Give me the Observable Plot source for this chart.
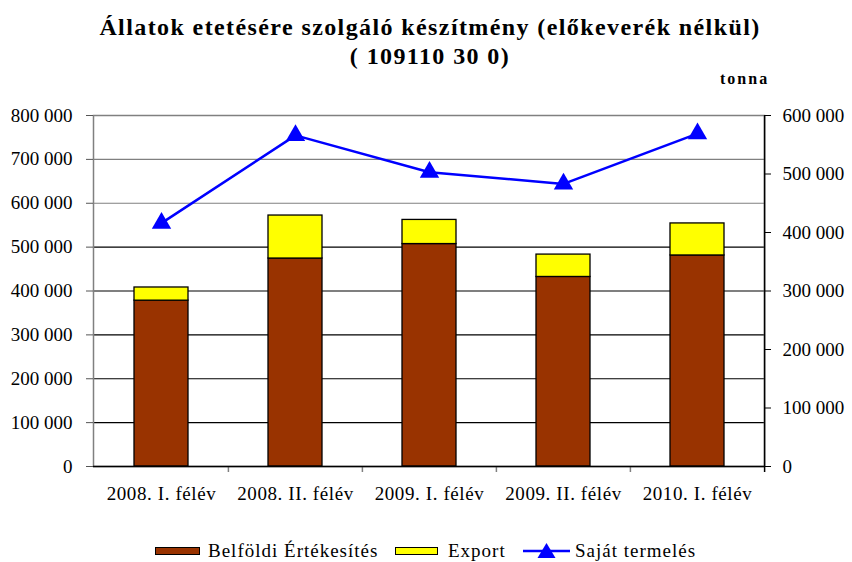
<!DOCTYPE html>
<html><head><meta charset="utf-8">
<script src="https://cdn.jsdelivr.net/npm/d3@7"></script>
<script src="https://cdn.jsdelivr.net/npm/@observablehq/plot@0.6"></script>
<style>
body{margin:0;background:#fff;font-family:"Liberation Serif","Times New Roman",serif;color:#000}
#wrap{position:relative;width:852px;height:562px;overflow:hidden}
#title{position:absolute;left:0;top:13px;width:860px;text-align:center;font-weight:bold;font-size:24px;line-height:29px;letter-spacing:1.4px}
#unit{position:absolute;left:720px;top:70px;font-weight:bold;font-size:16px;letter-spacing:2px}
#chart{position:absolute;left:0;top:90px}
#chart g[aria-label="x-axis tick label"] text{letter-spacing:0.6px}
.lg{position:absolute;font-size:19px;line-height:20px;top:541px;white-space:nowrap;letter-spacing:1px}
.sw{position:absolute;top:547px;height:6px;border:1px solid #000}
</style></head>
<body><div id="wrap">
<div id="title">Állatok etetésére szolgáló készítmény (előkeverék nélkül)<br>( 109110 30 0)</div>
<div id="unit">tonna</div>
<div id="chart"></div>
<div id="legend"></div>
</div>
<script>
const periods = ["2008. I. félév", "2008. II. félév", "2009. I. félév", "2009. II. félév", "2010. I. félév"];
const belfoldi = [378000, 474000, 507000, 432000, 481000];
const exportVals = [30000, 98000, 55000, 51000, 73000];
const sajat = [416000, 566000, 503000, 483000, 569000];
const leftTicks = [0, 100000, 200000, 300000, 400000, 500000, 600000, 700000, 800000];
const rightTicks = [0, 100000, 200000, 300000, 400000, 500000, 600000];
const seriesNames = ["Belföldi Értékesítés", "Export", "Saját termelés"];
const seriesColors = ["#993300", "#ffff00", "#0000ff"];

const ratio = 800000 / 600000;
const fmt = d3.formatLocale({decimal: ",", thousands: " ", grouping: [3], currency: ["", ""]}).format(",d");

const barData = [];
periods.forEach((p, i) => {
  barData.push({period: p, series: seriesNames[0], value: belfoldi[i]});
  barData.push({period: p, series: seriesNames[1], value: exportVals[i]});
});
const lineData = periods.map((p, i) => ({period: p, value: sajat[i]}));

const W = 852, ML = 93, MR = 88;
const step = (W - ML - MR) / periods.length;

const chart = Plot.plot({
  width: W, height: 426,
  marginTop: 25, marginBottom: 50, marginLeft: ML, marginRight: MR,
  style: {fontFamily: "'Liberation Serif', 'Times New Roman', serif", fontSize: "19px", color: "#000", background: "#fff"},
  x: {domain: periods, paddingInner: 0.6, paddingOuter: 0.3, label: null},
  y: {domain: [0, 800000], label: null},
  color: {domain: seriesNames.slice(0, 2), range: seriesColors.slice(0, 2)},
  marks: [
    Plot.ruleY(leftTicks.filter(d => d < 600000), {stroke: "#000", strokeWidth: 1.2}),
    Plot.ruleY(leftTicks.filter(d => d >= 600000), {stroke: "#808080", strokeWidth: 1.2}),
    Plot.frame({stroke: "#808080", strokeWidth: 1.5}),
    Plot.ruleX(periods.slice(-1), {x: d => d, dx: step / 2, stroke: "#000", strokeWidth: 1.5}),
    Plot.ruleX(periods.slice(1), {x: d => d, dx: -step / 2, y1: 0, y2: 0, insetBottom: -6, stroke: "#808080", strokeWidth: 1.5}),
    Plot.ruleX(periods.slice(-1), {x: d => d, dx: step / 2, y1: 0, y2: 0, insetBottom: -6, stroke: "#000", strokeWidth: 1.5}),
    Plot.barY(barData, {x: "period", y: "value", fill: "series", stroke: "#000", strokeWidth: 1.3}),
    Plot.ruleY([0], {stroke: "#000", strokeWidth: 1.5}),
    Plot.line(lineData, {x: "period", y: d => d.value * ratio, stroke: seriesColors[2], strokeWidth: 2.5}),
    Plot.dot(lineData, {x: "period", y: d => d.value * ratio, symbol: "triangle", r: 7.2, fill: seriesColors[2], stroke: "none"}),
    Plot.axisY({ticks: leftTicks, tickFormat: fmt, anchor: "left", tickSize: 7, tickPadding: 14, stroke: "#555", fontSize: 19, label: null}),
    Plot.axisY({ticks: rightTicks.map(d => d * ratio), tickFormat: d => fmt(Math.round(d / ratio)), anchor: "right", tickSize: 6, tickPadding: 12, fontSize: 19, label: null}),
    Plot.axisX({tickSize: 0, tickPadding: 20, fontSize: 19, label: null})
  ]
});
document.getElementById("chart").appendChild(chart);

// legend (HTML outside the SVG)
const lg = document.getElementById("legend");
const items = [
  {type: "box", color: seriesColors[0], x: 155, w: 43, tx: 208, text: seriesNames[0]},
  {type: "box", color: seriesColors[1], x: 395, w: 41, tx: 448, text: seriesNames[1]},
  {type: "line", color: seriesColors[2], x: 523, w: 47, tx: 575, text: seriesNames[2]}
];
items.forEach(it => {
  if (it.type === "box") {
    const s = document.createElement("div");
    s.className = "sw";
    s.style.left = it.x + "px";
    s.style.width = it.w + "px";
    s.style.background = it.color;
    lg.appendChild(s);
  } else {
    const ns = "http://www.w3.org/2000/svg";
    const svg = document.createElementNS(ns, "svg");
    svg.setAttribute("width", it.w);
    svg.setAttribute("height", 20);
    svg.style.position = "absolute";
    svg.style.left = it.x + "px";
    svg.style.top = "540px";
    const l = document.createElementNS(ns, "line");
    l.setAttribute("x1", 0); l.setAttribute("x2", it.w);
    l.setAttribute("y1", 11); l.setAttribute("y2", 11);
    l.setAttribute("stroke", it.color); l.setAttribute("stroke-width", 2.5);
    svg.appendChild(l);
    const t = document.createElementNS(ns, "path");
    const c = it.w / 2;
    t.setAttribute("d", `M${c},3L${c - 9},18L${c + 9},18Z`);
    t.setAttribute("fill", it.color);
    svg.appendChild(t);
    lg.appendChild(svg);
  }
  const tx = document.createElement("div");
  tx.className = "lg";
  tx.style.left = it.tx + "px";
  tx.textContent = it.text;
  lg.appendChild(tx);
});
</script>
</body></html>
